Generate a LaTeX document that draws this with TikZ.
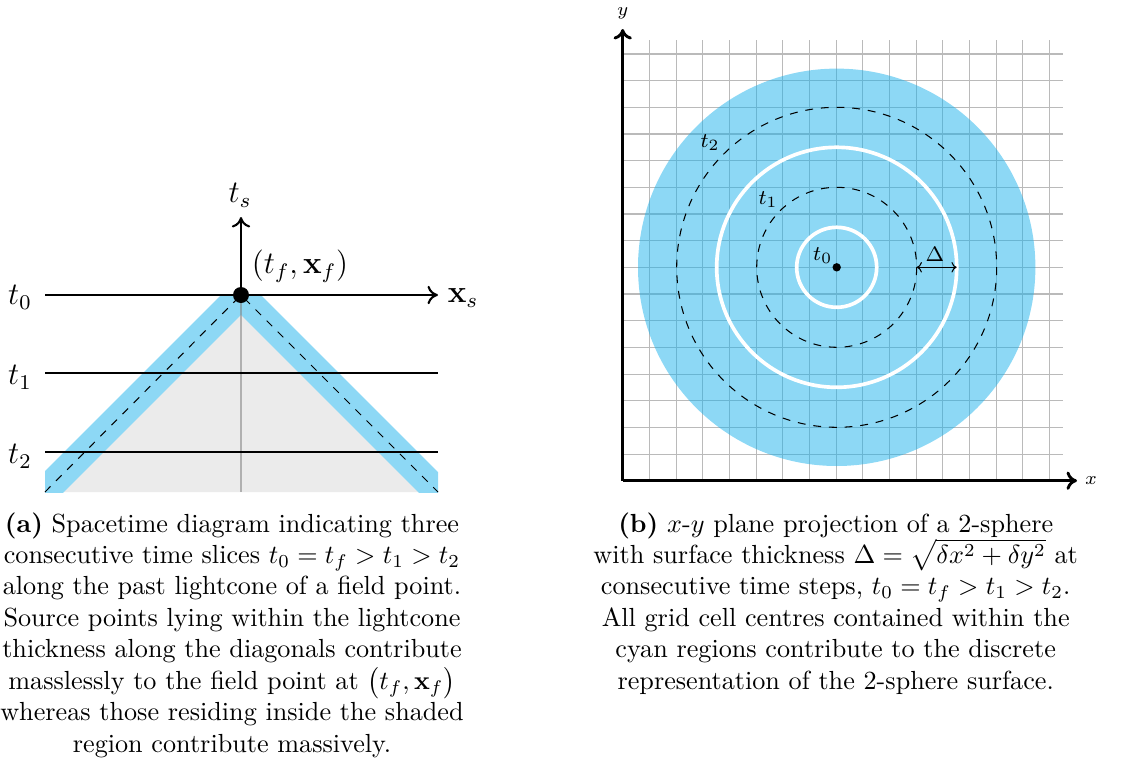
\documentclass[tikz,border=0pt]{standalone}
\usetikzlibrary{arrows.meta}
\definecolor{bandblue}{RGB}{141,216,245}
\definecolor{diskblue}{RGB}{27,177,235}
\definecolor{conegray}{RGB}{235,235,235}
\tikzset{
  axis/.style={line width=0.8pt,-{To[length=4pt,width=7pt]}},
  raxis/.style={line width=1.1pt,-{To[length=4pt,width=7pt]}},
  slice/.style={line width=0.8pt},
  gridline/.style={black!27,line width=0.4pt},
  ring/.style={white,line width=1.4pt},
  caption/.style={anchor=north,inner sep=0pt,align=center,font=\normalsize},
  lbl/.style={inner sep=0pt},
}
\begin{document}
\begin{tikzpicture}[x=0.382pt,y=-0.382pt]
\useasboundingbox (0,0) rectangle (1123,762);
% ---------- (a) spacetime diagram ----------
\coordinate (apex) at (241,295);
\coordinate (bl) at (45,492);
\coordinate (br) at (438,492);
\fill[conegray] (apex) -- (bl) -- (br) -- cycle;
\begin{scope}
  \clip (45,295) rectangle (438,492);
  \draw[bandblue,line width=10.7pt,miter limit=10] (21,515) -- (apex) -- (461,515);
\end{scope}
\draw[gray,opacity=0.55,line width=0.8pt] (apex) -- (241,492);
\draw[dashed,line width=0.4pt] (bl) -- (apex) -- (br);
\coordinate (l1a) at (45,373); \coordinate (l1b) at (438,373);
\coordinate (l2a) at (45,452); \coordinate (l2b) at (438,452);
\draw[slice] (l1a) -- (l1b);
\draw[slice] (l2a) -- (l2b);
\coordinate (t0a) at (45,295); \coordinate (t0b) at (438,295);
\coordinate (tsb) at (241,297); \coordinate (tst) at (241,217);
\draw[axis] (t0a) -- (t0b);
\draw[axis] (tsb) -- (tst);
\fill (apex) circle (8);
\node[lbl,font=\large] (ts) at (240,195) {$t_s$};
\node[lbl,font=\large] (xs) at (463,298) {$\mathbf{x}_s$};
\node[lbl,font=\large] (tf) at (300,266) {$(t_f,\mathbf{x}_f)$};
\node[lbl,font=\large] (lt0) at (20,297) {$t_0$};
\node[lbl,font=\large] (lt1) at (20,377) {$t_1$};
\node[lbl,font=\large] (lt2) at (20,456) {$t_2$};
% ---------- (b) x-y projection ----------
\coordinate (O) at (622.7,480.7);
\coordinate (C) at (836.7,267.3);
\foreach \k in {1,...,16} {
  \draw[gridline] ({622.7+\k*26.67},40) -- ({622.7+\k*26.67},480.7);
  \draw[gridline] (622.7,{480.7-\k*26.67}) -- (1063.3,{480.7-\k*26.67});
}
\fill[diskblue,opacity=0.5] (C) circle (198.7);
\draw[ring] (C) circle (40);
\draw[ring] (C) circle (120);
\draw[dashed,line width=0.4pt] (C) circle (80);
\draw[dashed,line width=0.4pt] (C) circle (160);
\fill (C) circle (4.2);
\coordinate (da) at (916.7,267.3);
\coordinate (db) at (956.7,267.3);
\draw[{To[length=2pt,width=4pt]}-{To[length=2pt,width=4pt]},line width=0.4pt] (da) -- (db);
\node[lbl,font=\footnotesize] (dl) at (935,254) {$\Delta$};
\node[lbl,font=\footnotesize] (rt0) at (822.7,256) {$t_0$};
\node[lbl,font=\footnotesize] (rt1) at (768,200) {$t_1$};
\node[lbl,font=\footnotesize] (rt2) at (710,143) {$t_2$};
\coordinate (yt) at (622.7,29);
\coordinate (xt) at (1077,480.7);
\draw[raxis] (O) -- (yt);
\draw[raxis] (O) -- (xt);
\node[lbl,font=\scriptsize] (ylab) at (622.7,13) {$y$};
\node[lbl,font=\scriptsize] (xlab) at (1091,481) {$x$};
% ---------- captions ----------
\node[caption] (capa) at (232,512) {\textbf{(a)} Spacetime diagram indicating three\\
consecutive time slices $t_0=t_f>t_1>t_2$\\
along the past lightcone of a field point.\\
Source points lying within the lightcone\\
thickness along the diagonals contribute\\
masslessly to the field point at $\smash{\big(}t_f,\mathbf{x}_f\smash{\big)}$\\
whereas those residing inside the shaded\\
region contribute massively.};
\node[caption] (capb) at (835.7,512) {\textbf{(b)} $x$-$y$ plane projection of a 2-sphere\\
with surface thickness $\Delta=\smash{\sqrt{\delta x^2+\delta y^2}}$ at\\
consecutive time steps, $t_0=t_f>t_1>t_2$.\\
All grid cell centres contained within the\\
cyan regions contribute to the discrete\\
representation of the 2-sphere surface.};
\end{tikzpicture}
\end{document}
